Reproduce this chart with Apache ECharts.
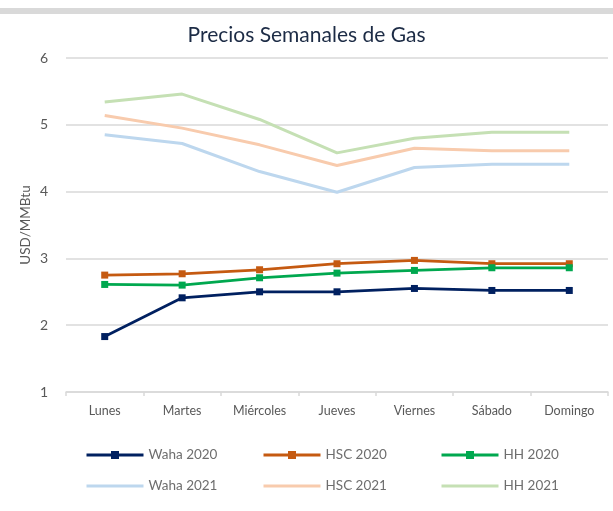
<!DOCTYPE html>
<html>
<head>
<meta charset="utf-8">
<script src="https://cdn.jsdelivr.net/npm/echarts@6/dist/echarts.min.js"></script>
<style>
html,body{margin:0;padding:0;background:#fff;}
#c{width:613px;height:511px;}
</style>
</head>
<body>
<div id="c"></div>
<script>
const categories = ['Lunes','Martes','Miércoles','Jueves','Viernes','Sábado','Domingo'];
const waha2020 = [1.83, 2.41, 2.50, 2.50, 2.55, 2.52, 2.52];
const hsc2020  = [2.75, 2.77, 2.83, 2.92, 2.97, 2.92, 2.92];
const hh2020   = [2.61, 2.60, 2.71, 2.78, 2.82, 2.86, 2.86];
const waha2021 = [4.85, 4.72, 4.30, 3.99, 4.36, 4.41, 4.41];
const hsc2021  = [5.14, 4.95, 4.70, 4.39, 4.65, 4.61, 4.61];
const hh2021   = [5.34, 5.46, 5.08, 4.58, 4.80, 4.89, 4.89];
const yTicks = [1, 2, 3, 4, 5, 6];

const FONT = 'Lato';
const chart = echarts.init(document.getElementById('c'), null, {renderer: 'canvas'});

function lineSeries(name, data, color, width, withMarker, z) {
  return {
    name: name, type: 'line', data: data, z: z,
    symbol: withMarker ? 'rect' : 'none',
    symbolSize: 7,
    showSymbol: withMarker,
    lineStyle: {color: color, width: width},
    itemStyle: {color: color},
    emphasis: {disabled: true},
    animation: false
  };
}

const legendPos = [
  ['Waha 2020', 85, 448, true], ['HSC 2020', 262, 448, true], ['HH 2020', 440, 448, true],
  ['Waha 2021', 85, 479, false], ['HSC 2021', 262, 479, false], ['HH 2021', 440, 479, false]
];

chart.setOption({
  animation: false,
  backgroundColor: '#fff',
  textStyle: {fontFamily: FONT},
  title: {
    text: 'Precios Semanales de Gas',
    left: 'center', top: 20,
    textStyle: {fontFamily: FONT, fontSize: 21, fontWeight: 'normal', color: '#1c2b45'}
  },
  graphic: [{
    type: 'rect', left: 0, top: 8, shape: {width: 613, height: 6},
    style: {fill: '#d9d9d9'}, silent: true
  }],
  grid: {left: 66, right: 5, top: 58, bottom: 119, containLabel: false},
  legend: legendPos.map(function (p) {
    const lg = {
      data: [p[0]], left: p[1], top: p[2], padding: 0,
      itemWidth: 57, itemHeight: 10, itemGap: 0,
      lineStyle: {width: 3},
      textStyle: {fontFamily: FONT, fontSize: 13.5, color: '#6e6e6e'},
      selectedMode: false
    };
    if (!p[3]) lg.itemStyle = {opacity: 0};
    return lg;
  }),
  xAxis: {
    type: 'category', data: categories, boundaryGap: true,
    axisLine: {lineStyle: {color: '#d9d9d9', width: 1.5}},
    axisTick: {show: true, length: 4, lineStyle: {color: '#d9d9d9', width: 1.5}},
    axisLabel: {fontFamily: FONT, fontSize: 12.5, color: '#595959', margin: 12}
  },
  yAxis: {
    type: 'value', min: yTicks[0], max: yTicks[yTicks.length - 1], interval: 1,
    name: 'USD/MMBtu', nameLocation: 'middle', nameGap: 33, nameMoveOverlap: false,
    nameTextStyle: {fontFamily: FONT, fontSize: 13.5, color: '#595959'},
    axisLine: {show: false}, axisTick: {show: false},
    axisLabel: {fontFamily: FONT, fontSize: 14, color: '#595959', margin: 18},
    splitLine: {lineStyle: {color: '#d9d9d9', width: 1.5}}
  },
  series: [
    lineSeries('Waha 2020', waha2020, '#002060', 2.75, true, 5),
    lineSeries('HSC 2020', hsc2020, '#C55A11', 2.75, true, 4),
    lineSeries('HH 2020', hh2020, '#00A84F', 2.75, true, 4),
    lineSeries('Waha 2021', waha2021, '#BDD7EE', 3, false, 2),
    lineSeries('HSC 2021', hsc2021, '#F8CBAD', 3, false, 2),
    lineSeries('HH 2021', hh2021, '#C5E0B4', 3, false, 2)
  ]
});
</script>
</body>
</html>
